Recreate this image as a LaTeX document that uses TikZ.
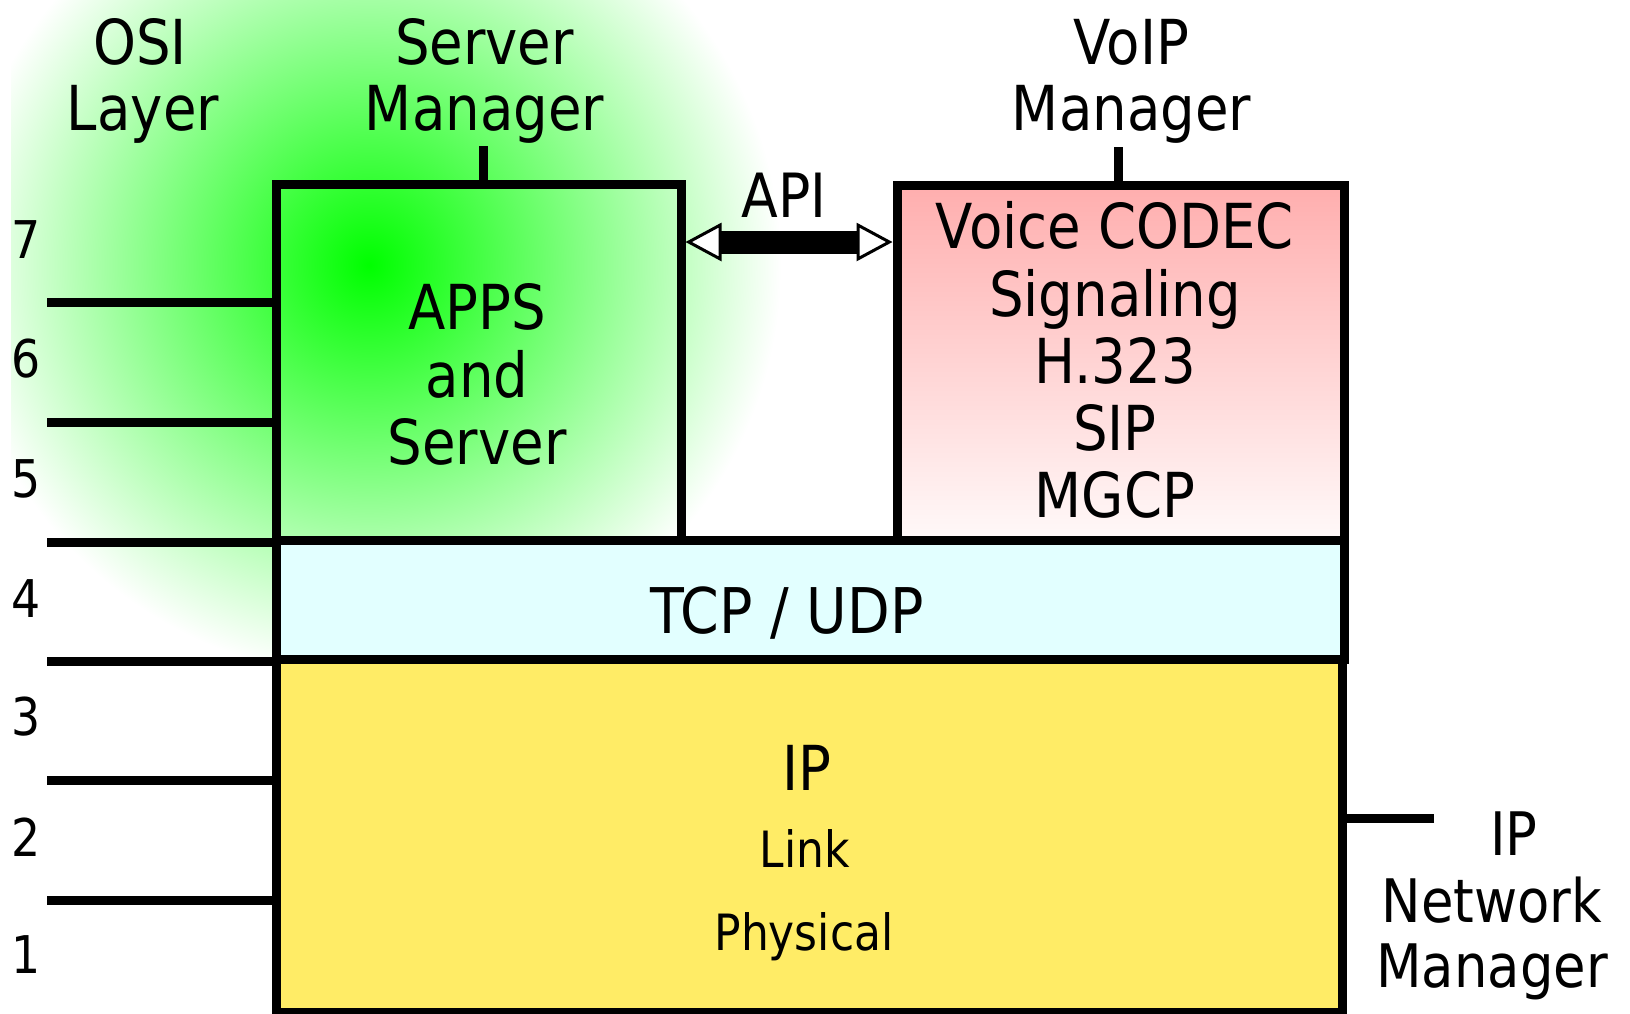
\documentclass[tikz,border=0pt]{standalone}
\usepackage{fontspec}
\setmainfont[FakeStretch=0.88]{DejaVu Sans}
\usetikzlibrary{arrows.meta}

\definecolor{glowgreen}{RGB}{0,255,0}
\definecolor{pinktop}{RGB}{255,174,174}
\definecolor{pinkbot}{RGB}{255,249,249}
\definecolor{tcpfill}{RGB}{226,255,255}
\definecolor{ipfill}{RGB}{255,236,102}

% soft green halo around the application box
\pgfdeclareradialshading{greenglow}{\pgfpoint{0bp}{0bp}}{%
  color(0bp)=(glowgreen); color(25bp)=(white); color(50bp)=(white)}

\tikzset{
  layerbox/.style={draw=black, line width=9pt, rectangle, inner sep=0pt},
  rule/.style={draw=black, line width=9pt},
  big/.style={anchor=base, inner sep=0pt, font=\fontsize{62}{66}\selectfont},
  mid/.style={anchor=base, inner sep=0pt, font=\fontsize{60}{64}\selectfont},
  small/.style={anchor=base, inner sep=0pt, font=\fontsize{50}{54}\selectfont},
  num/.style={anchor=base, inner sep=0pt, font=\fontsize{52}{56}\selectfont},
  apiarrow/.style={line width=23pt,
    {Triangle[length=36pt, width=38pt, line width=3pt, fill=white]}-{Triangle[length=36pt, width=38pt, line width=3pt, fill=white]}}
}

\begin{document}
\begin{tikzpicture}[x=1pt, y=-1pt]
  % page
  \fill[white] (0,0) rectangle (1630,1013);
  \useasboundingbox (0,0) rectangle (1630,1013);

  % halo
  \begin{scope}
    \clip (11,0) rectangle (1630,1013);
    \shade[shading=greenglow] (369,265) circle (412);
  \end{scope}

  % protocol stack
  \node[layerbox, fill=ipfill, minimum width=1066pt, minimum height=353pt] (ip) at (809,835.5) {};
  \node[layerbox, fill=tcpfill, minimum width=1068pt, minimum height=119pt] (tcp) at (810,599.5) {};
  \node[layerbox, minimum width=405pt, minimum height=356pt] (apps) at (478.5,362) {};
  \node[layerbox, top color=pinktop, bottom color=pinkbot, minimum width=447pt, minimum height=355pt] (voice) at (1120.5,362.5) {};

  % OSI layer separators
  \coordinate (s67) at (47,302.5);
  \coordinate (s56) at (47,422);
  \coordinate (s45) at (47,542);
  \coordinate (s34) at (47,661);
  \coordinate (s23) at (47,780);
  \coordinate (s12) at (47,900);
  \draw[rule] (s67) -- (s67 -| apps.west);
  \draw[rule] (s56) -- (s56 -| apps.west);
  \draw[rule] (s45) -- (s45 -| tcp.west);
  \draw[rule] (s34) -- (s34 -| tcp.west);
  \draw[rule] (s23) -- (s23 -| ip.west);
  \draw[rule] (s12) -- (s12 -| ip.west);

  % layer numbers
  \node[num] (n7) at (26,258) {7};
  \node[num] (n6) at (26,377.5) {6};
  \node[num] (n5) at (26,497) {5};
  \node[num] (n4) at (26,617) {4};
  \node[num] (n3) at (26,735) {3};
  \node[num] (n2) at (26,856) {2};
  \node[num] (n1) at (26,973) {1};

  % column headings
  \node[big] (osi) at (140,64) {OSI};
  \node[big] (layer) at (143,130) {Layer};
  \node[big] (srv) at (484.5,64) {Server};
  \node[big] (srvmgr) at (484.5,130) {Manager};
  \node[big] (voip) at (1131.5,64) {VoIP};
  \node[big] (voipmgr) at (1131.5,130) {Manager};

  % manager ticks
  \coordinate (srvtick) at (483,146);
  \coordinate (voiptick) at (1118,147);
  \draw[rule] (srvtick) -- (srvtick |- apps.north);
  \draw[rule] (voiptick) -- (voiptick |- voice.north);

  % API between application and VoIP stacks
  \draw[apiarrow] (apps.east |- 0,242) -- (voice.west |- 0,242);
  \node[big, font=\fontsize{61}{64}\selectfont] (api) at (784,217) {API};

  % box contents
  \node[big] (apps1) at (477,329) {APPS};
  \node[big] (apps2) at (477,397) {and};
  \node[big] (apps3) at (477,464) {Server};

  \node[big] (v1) at (1115,248) {Voice CODEC};
  \node[big] (v2) at (1115,316) {Signaling};
  \node[big] (v3) at (1115,383) {H.323};
  \node[big] (v4) at (1115,450) {SIP};
  \node[big] (v5) at (1115,517) {MGCP};

  \node[big, font=\fontsize{63}{66}\selectfont] (tcpudp) at (787,633) {TCP / UDP};

  \node[big] (iptxt) at (807,790) {IP};
  \node[small] (link) at (805,867) {Link};
  \node[small] (phys) at (804,950) {Physical};

  % IP network manager
  \coordinate (nettick) at (1434,818);
  \draw[rule] (nettick) -- (nettick -| ip.east);
  \node[mid] (nm1) at (1514,855) {IP};
  \node[mid] (nm2) at (1492,922) {Network};
  \node[mid] (nm3) at (1492,987) {Manager};
\end{tikzpicture}
\end{document}
